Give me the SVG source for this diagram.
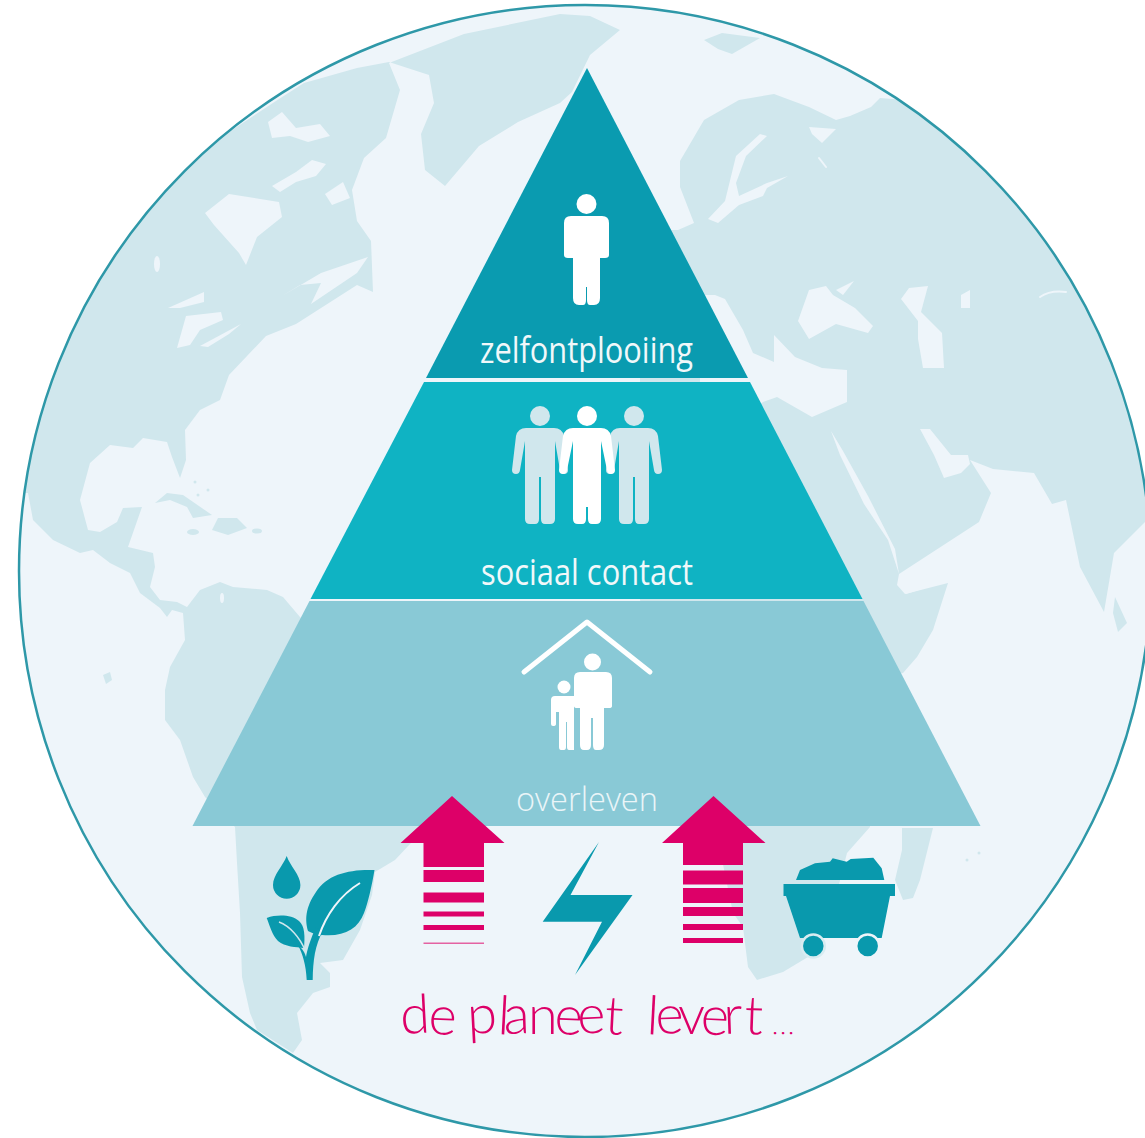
<svg xmlns="http://www.w3.org/2000/svg" width="1145" height="1138" viewBox="0 0 1145 1138">
<style>
.land{fill:#d0e7ed}
.sea{fill:#eef5fa}
.seal{fill:none;stroke:#eef5fa;stroke-linecap:round;stroke-linejoin:round}
.teal{fill:#0999ad}
.pink{fill:#dd0068}
.lbl{font-family:"Open Sans","Noto Sans",sans-serif;font-weight:400;font-size:36px;text-anchor:middle}
</style>
<defs>
<clipPath id="globeClip"><circle cx="585" cy="571" r="566"/></clipPath>
<path id="man" d="M-14 0H14Q22 0 24 8L28 42Q28 46 24 46Q20.500 46 20 42L15 13V91Q15 96 10 96H5Q1 96 1 91V49H-1V91Q-1 96 -5 96H-10Q-15 96 -15 91V13L-20 42Q-20.500 46 -24 46Q-28 46 -28 42L-24 8Q-22 0 -14 0Z"/>
</defs>
<rect width="1145" height="1138" fill="#ffffff"/>
<g id="globe">
<circle cx="585" cy="571" r="566" class="sea"/>
<g clip-path="url(#globeClip)">
<path class="land" d="M0 100L232 130L279 99L304 83L357 68L389 62L429 75L434 103L421 134L425 170L445 186L479 146L518 122L560 103L572 92L590 55L620 30L590 16L560 14L464 34L389 63L400 90L386 138L364 158L352 190L357 221L371 241L373 292L357 285L296 324L266 336L229 375L220 400L200 410L185 430L186 460L180 478L172 457L167 442L143 438L133 448L110 445L90 463L80 500L88 530L100 532L117 522L123 508L142 507L128 547L153 553L155 567L150 587L160 600L177 602L187 607L200 590L220 582L233 587L267 590L283 597L300 617L400 720L426 827L395 860L375 872L372 895L360 930L343 960L320 963L330 973L330 987L313 993L297 1013L302 1040L293 1053L257 1030L250 1013L242 977L240 913L237 863L235 827L205 797L193 777L180 740L165 720L165 690L170 667L185 640L183 613L172 610L167 617L160 608L140 593L130 573L110 563L93 550L80 553L53 540L33 520L28 493L0 493Z"/>
<path class="land" d="M640 260L670 230L678 230L694 223L680 187L680 161L704 120L739 100L774 94L809 107L836 120L850 116L871 107L880 98L906 100L906 60L1200 60L1200 522L1145 522L1114 553L1104 612L1080 567L1066 500L1052 504L1034 473L993 469L970 460L991 493L979 522L899 574L897 585L905 594L948 583L933 630L917 657L903 673L880 680L870 827L847 853L835 900L808 957L783 972L757 980L748 967L743 927L733 913L720 850L700 826L640 600Z"/>
<path class="land" d="M704 40L722 33L760 38L732 54L718 49Z"/>
<path class="land" d="M902 828L933 828L920 880L913 898L903 900L895 880L902 850Z"/>
<path class="land" d="M1115 597L1127 623L1118 632L1113 613Z"/>
<path class="land" d="M155 503L167 493L183 495L212 515L193 518L187 507L170 500Z"/>
<path class="land" d="M218 518L237 518L247 528L228 535L212 530Z"/>
<ellipse class="land" cx="193" cy="532" rx="6" ry="3"/>
<ellipse class="land" cx="257" cy="531" rx="5" ry="2.500"/>
<circle class="land" cx="195" cy="482" r="1.500"/>
<circle class="land" cx="198" cy="495" r="1.500"/>
<circle class="land" cx="208" cy="490" r="1.500"/>
<circle class="land" cx="967" cy="860" r="1.500"/>
<circle class="land" cx="979" cy="853" r="1.500"/>
<path class="land" d="M103 675L110 672L112 680L106 684Z"/>
<path class="sea" d="M205 213L229 194L279 202L282 217L257 237L246 265L239 253L214 225Z"/>
<path class="sea" d="M168 308L204 292L204 302L180 308Z"/>
<path class="sea" d="M177 348L186 316L221 312L223 320L200 330L190 345Z"/>
<path class="sea" d="M200 346L241 324L229 334L208 347Z"/>
<path class="sea" d="M282 296L321 273L368 257L357 273L311 304L321 283L300 285Z"/>
<ellipse class="sea" cx="157" cy="264" rx="3" ry="8"/>
<path class="sea" d="M325 194L343 182L350 198L332 205Z"/>
<path class="sea" d="M268 122L282 112L296 128L320 124L330 136L308 142L290 136L272 138Z"/>
<path class="sea" d="M272 186L296 172L312 160L326 164L316 176L296 182L280 192Z"/>
<ellipse class="sea" cx="222" cy="598" rx="2" ry="5"/>
<path class="sea" d="M700 295L715 295L725 299L743 330L753 353L774 362L774 335L795 357L822 368L847 370L847 402L812 417L777 397L763 402L740 420L700 400Z"/>
<path class="sea" d="M809 290L826 286L833 295L855 308L873 326L868 333L836 324L809 339L798 321Z"/>
<path class="sea" d="M836 290L854 281L843 295Z"/>
<path class="sea" d="M901 299L909 288L928 286L921 312L942 333L944 368L923 368L918 339L918 321Z"/>
<path class="sea" d="M961 295L970 290L970 308L961 308Z"/>
<path class="seal" stroke-width="2" d="M1040 297Q1050 290 1066 292"/>
<path class="sea" d="M760 134L767 136L746 156L736 183L739 196L767 183L788 176L767 188L763 196L739 205L718 223L708 219L725 201L736 156Z"/>
<path class="sea" d="M809 127L836 129L822 143L812 134Z"/>
<path class="seal" stroke-width="2" d="M819 158L826 167"/>
<path class="sea" d="M831 431L843 451L868 496L895 549L899 574L888 540L864 504L840 455Z"/>
<path class="sea" d="M899 574L965 576L906 594L899 585Z"/>
<path class="sea" d="M920 429L930 429L951 455L968 455L970 464L961 473L944 478L934 455Z"/>
</g>
<circle cx="585" cy="571" r="566" fill="none" stroke="#2e98a8" stroke-width="2.500"/>
</g>
<g id="tier-zelfontplooiing">
<path fill="#0a9bb0" d="M587 68L748 378H426Z"/>
<circle cx="586.500" cy="204" r="10" fill="#ffffff"/>
<path fill="#ffffff" d="M571 216H602Q609 216 609 223V255Q609 258 605 258H600V298Q600 305 594 305H590Q587 305 587 300V287H586V300Q586 305 583 305H579Q573 305 573 298V258H568Q564 258 564 255V223Q564 216 571 216Z"/>
<text class="lbl" x="586.500" y="363" fill="#f1f8fa" textLength="213" lengthAdjust="spacingAndGlyphs">zelfontplooiing</text>
</g>
<g id="tier-sociaal-contact">
<path fill="#0fb3c3" d="M424 382H750L862.500 599H310.500Z"/>
<circle cx="540" cy="416" r="10" fill="#d0e7ed"/>
<circle cx="634" cy="416" r="10" fill="#d0e7ed"/>
<use href="#man" x="540" y="428" fill="#d0e7ed"/>
<use href="#man" x="634" y="428" fill="#d0e7ed"/>
<circle cx="587" cy="416" r="10" fill="#ffffff"/>
<path fill="#ffffff" d="M573 428H601Q609 428 611 436L615 470Q615 474 611 474Q607.500 474 607 470L601 441V519Q601 524 596 524H592Q588 524 588 519V507H586V519Q586 524 582 524H578Q573 524 573 519V441L567 470Q566.500 474 563 474Q559 474 559 470L563 436Q565 428 573 428Z"/>
<text class="lbl" x="587" y="585" fill="#f1f8fa" textLength="212" lengthAdjust="spacingAndGlyphs">sociaal contact</text>
</g>
<g id="tier-overleven">
<path fill="#89c9d6" d="M309.500 601H863.500L980.500 826H192.500Z"/>
<path d="M524 672L587 622L650 672" fill="none" stroke="#ffffff" stroke-width="5" stroke-linecap="round" stroke-linejoin="round"/>
<ellipse cx="592.500" cy="662" rx="8.500" ry="8.500" fill="#ffffff"/>
<path fill="#ffffff" d="M580 672H606Q612 672 612 678V706Q612 708 609 708H604V745Q604 750 599 750H596Q593 750 593 745V718H591V745Q591 750 587 750H584Q580 750 580 745V708H577Q574 708 574 706V678Q574 672 580 672Z"/>
<circle cx="564" cy="687" r="6.500" fill="#ffffff"/>
<path fill="#ffffff" d="M555 696H574V750H569Q567 750 567 747V722H566V747Q566 750 564 750H561Q559 750 559 747V712H556V724Q556 726 553 726Q551 726 551 724V700Q551 696 555 696Z"/>
<text class="lbl" x="587" y="811" fill="#eaf5f8" style="font-size:33px;font-weight:300" textLength="142" lengthAdjust="spacingAndGlyphs">overleven</text>
</g>
<g id="arrow-left" class="pink">
<path d="M452 796L504.500 843H484V867H423.500V843H400.500Z"/>
<rect x="423.500" y="870" width="60.500" height="12"/>
<rect x="423.500" y="892.500" width="60.500" height="10"/>
<rect x="423.500" y="911.500" width="60.500" height="5"/>
<rect x="423.500" y="925" width="60.500" height="5"/>
<rect x="423.500" y="942.500" width="60.500" height="1.500" opacity="0.6"/>
</g>
<g id="arrow-right" class="pink">
<path d="M713.500 796L765.500 843H743V865H683V843H662Z"/>
<rect x="683" y="870.500" width="60" height="14"/>
<rect x="683" y="888" width="60" height="15"/>
<rect x="683" y="907" width="60" height="9"/>
<rect x="683" y="924" width="60" height="6"/>
<rect x="683" y="938" width="60" height="5"/>
</g>
<g id="icon-water-plant">
<path class="teal" d="M286.700 856C283 866 273 875 273 885A13.700 13.700 0 0 0 300.400 885C300.400 875 290 866 286.700 856Z"/>
<path class="teal" d="M374.500 870C350 869 327 874 316 892C305 908 305 920 308 931C315 934 318 936 322 935C344 937 358 929 364 913C368 903 372 885 374.500 870Z"/>
<path class="teal" d="M266.700 918C278 914 292 915 299 921C305 926 305 937 304 948C296 947 285 947 278 941C272 935 270 926 266.700 918Z"/>
<path class="teal" d="M306.700 980L312.700 980C313 960 315 945 323 931L316 927C311 938 307 950 306 957C304 950 301 948 298 945C303 955 306 965 306.700 980Z"/>
<path d="M319 936C326 915 340 895 360 883" fill="none" stroke="#eef5fa" stroke-width="2"/>
<path d="M279 922C290 926 300 938 305 950" fill="none" stroke="#d0e7ed" stroke-width="1.500"/>
</g>
<g id="icon-energy">
<path class="teal" d="M599 842L570.500 895H632.500L575 975L602 921.700H542.700Z"/>
</g>
<g id="icon-mine-cart">
<path class="teal" d="M796 880L800 870L815 863.300L830 861.700L832.700 858.300L846.700 861.700L850.700 859L873.300 857.700L881.700 868.300L884.300 880Z"/>
<path class="teal" d="M783.500 884H895V896H890L881.700 938H800L786 896H783.500Z"/>
<circle class="teal" cx="813.300" cy="946" r="11.500" stroke="#d8ecf1" stroke-width="2.500"/>
<circle class="teal" cx="867.700" cy="946" r="11.500" stroke="#eef5fa" stroke-width="2.500"/>
</g>
<text id="caption" y="1034" font-family="Lato,'Open Sans',sans-serif" font-weight="300" font-size="54" fill="#dd0068" x="401 428 459 468 497 504 528 554 578 604 624 646 656 678 700 724 744" rotate="-3 2 0 -3 3 -2 0 2 -3 3 0 3 -2 0 3 -2 2">de planeet levert<tspan x="772 780 788" font-size="26">...</tspan></text>
</svg>
